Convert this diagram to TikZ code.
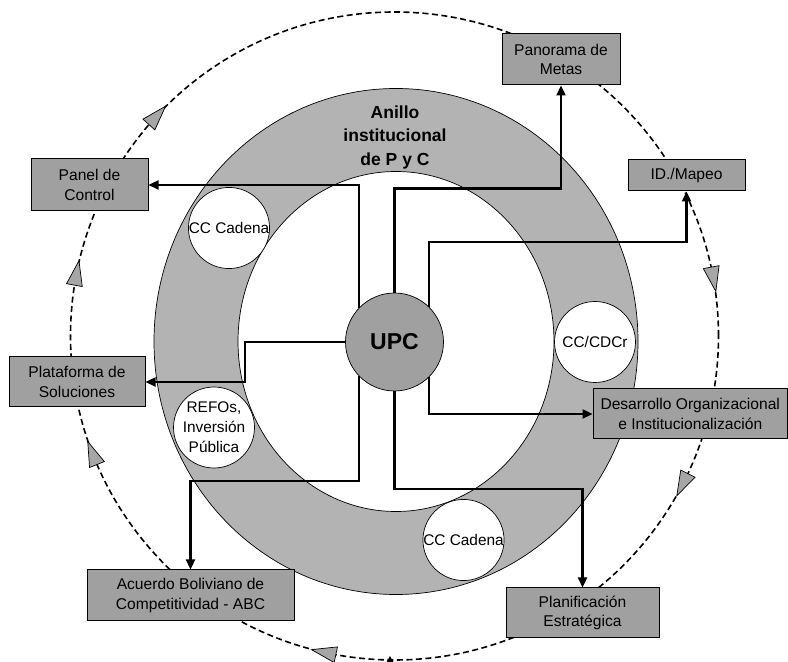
\documentclass[tikz,border=0pt]{standalone}
\usepackage{fontspec}
\setmainfont{Liberation Sans}
\usetikzlibrary{arrows.meta,calc}

\definecolor{boxgray}{RGB}{160,160,160}
\definecolor{ringgray}{RGB}{179,179,179}
\definecolor{tipgray}{RGB}{166,166,166}

\tikzset{
  stagebox/.style={draw=black, line width=1pt, fill=boxgray, inner sep=0pt,
    align=center, font=\fontsize{15.6}{19.5}\selectfont},
  bubble/.style={circle, draw=black, line width=0.7pt, fill=white,
    minimum size=81pt, inner sep=0pt, align=center,
    font=\fontsize{15.4}{20}\selectfont},
  link/.style={line width=2.3pt, -{Triangle[length=10pt,width=9pt]}},
  cycleline/.style={line width=1.6pt, dash pattern=on 6pt off 3.5pt},
  cycletip/.style={fill=tipgray, draw=black, line width=0.7pt, line join=miter},
}

\begin{document}
\begin{tikzpicture}[x=1pt,y=1pt]
\useasboundingbox (0,0) rectangle (788,662);

\coordinate (orbit) at (394.5,326);
\coordinate (ringc) at (396,320.5);

% outer dashed cycle
\draw[cycleline] (orbit) circle[radius=324pt];

% institutional ring
\fill[ringgray, even odd rule]
  (ringc) ellipse[x radius=242pt, y radius=253pt]
  (ringc) ellipse[x radius=158pt, y radius=170pt];
\draw[line width=0.7pt] (ringc) ellipse[x radius=242pt, y radius=253pt];
\draw[line width=0.7pt] (ringc) ellipse[x radius=158pt, y radius=170pt];

\node[font=\bfseries\fontsize{17.5}{23.5}\selectfont, align=center] (title)
  at (395,525) {Anillo\\institucional\\de P y C};

% bubbles on the ring
\node[bubble] (cctl) at (229,434) {CC Cadena};
\node[bubble] (cdcr) at (595,320) {CC/CDCr};
\node[bubble] (refos) at (214,234.5) {REFOs,\\Inversión\\Pública};
\node[bubble] (ccbot) at (463.5,122) {CC Cadena};

% stage boxes
\node[stagebox, minimum width=117pt, minimum height=52pt] (panel) at (89.5,477) {Panel de\\Control};
\node[stagebox, minimum width=118pt, minimum height=51pt] (metas) at (561,602.5) {Panorama de\\Metas};
\node[stagebox, minimum width=117pt, minimum height=31pt] (mapeo) at (686.5,486.5) {ID./Mapeo};
\node[stagebox, minimum width=136pt, minimum height=50pt] (plataforma) at (77,280) {Plataforma de\\Soluciones};
\node[stagebox, minimum width=207pt, minimum height=51pt] (abc) at (190.5,66.5) {Acuerdo Boliviano de\\Competitividad - ABC};
\node[stagebox, minimum width=194.5pt, minimum height=50pt] (desarrollo) at (690.25,248) {Desarrollo Organizacional\\e Institucionalización};
\node[stagebox, minimum width=153pt, minimum height=50pt] (planif) at (582.5,49) {Planificación\\Estratégica};

% central unit
\node[circle, fill=boxgray, draw=black, line width=0.7pt, minimum size=98pt,
  inner sep=0pt, font=\bfseries\fontsize{23}{23}\selectfont] (upc) at (394.5,320) {UPC};

% links from the central unit
\draw[link] ([shift={(-35.5,33.8)}]upc.center) |- (panel.east);
\draw[link] (upc.north) -- ++(0,104) -| (metas.south);
\draw[link] ([shift={(34.5,34.8)}]upc.center) -- ++(0,65.2) -| (mapeo.south);
\draw[link] (upc.west) -- ++(-100.5,0) |- (plataforma.east);
\draw[link] ([shift={(-35.5,-33.8)}]upc.center) -- ++(0,-105.2) -| (abc.north);
\draw[link] ([shift={(34.5,-34.8)}]upc.center) |- (desarrollo.west);
\draw[link] (upc.south) -- ++(0,-98) -| (planif.north);

% clockwise markers on the dashed cycle
\foreach \a in {137.8,169.5,201.9,258.1,10.8,-26.6}{
  \draw[cycletip, shift={($(orbit)+(\a:324)$)}, rotate=\a-90]
    (16.5,0) -- (-8.3,8) -- (-8.3,-8) -- cycle;
}
\fill (385.5,-2) -- (390,6) -- (394.5,-2) -- cycle;
\end{tikzpicture}
\end{document}
